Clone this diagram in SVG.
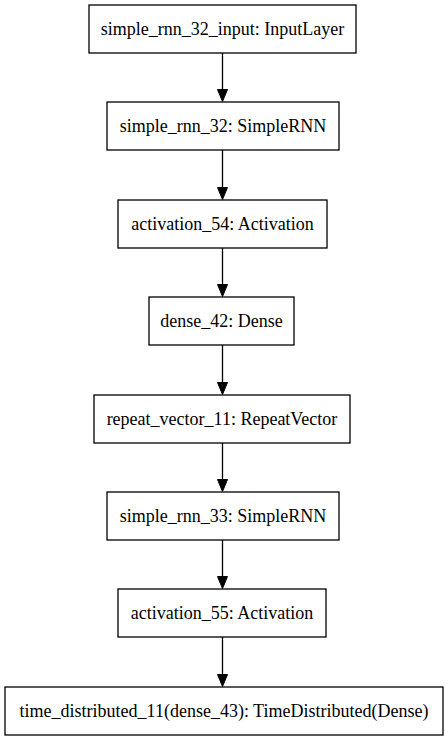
<svg xmlns="http://www.w3.org/2000/svg" width="445" height="741" viewBox="0 0 445 741">
<style>
.box{fill:#fff;stroke:#000;stroke-width:1.3}
.lbl{font-family:"Liberation Serif","Times New Roman",serif;font-size:18px;fill:#000;text-anchor:middle}
.edge{stroke:#000;stroke-width:1.3;fill:none}
.head{fill:#000;stroke:#000;stroke-width:1}
</style>
<rect width="445" height="741" fill="#fff"/>
<g id="connectors">
<line class="edge" x1="222.5" y1="53" x2="222.5" y2="90"/><polygon class="head" points="217.5,89.5 227.5,89.5 222.5,101.5"/>
<line class="edge" x1="222.5" y1="150" x2="222.5" y2="188"/><polygon class="head" points="217.5,187.5 227.5,187.5 222.5,199.5"/>
<line class="edge" x1="222.5" y1="248" x2="222.5" y2="285"/><polygon class="head" points="217.5,284.5 227.5,284.5 222.5,296.5"/>
<line class="edge" x1="222.5" y1="345" x2="222.5" y2="383"/><polygon class="head" points="217.5,382.5 227.5,382.5 222.5,394.5"/>
<line class="edge" x1="222.5" y1="443" x2="222.5" y2="480"/><polygon class="head" points="217.5,479.5 227.5,479.5 222.5,491.5"/>
<line class="edge" x1="222.5" y1="540" x2="222.5" y2="577"/><polygon class="head" points="217.5,576.5 227.5,576.5 222.5,588.5"/>
<line class="edge" x1="222.5" y1="637" x2="222.5" y2="675"/><polygon class="head" points="217.5,674.5 227.5,674.5 222.5,686.5"/>
</g>
<g id="n1"><rect class="box" x="89" y="5" width="267" height="48"/><text class="lbl" x="222.5" y="35">simple_rnn_32_input: InputLayer</text></g>
<g id="n2"><rect class="box" x="107" y="102" width="232" height="48"/><text class="lbl" x="223" y="132">simple_rnn_32: SimpleRNN</text></g>
<g id="n3"><rect class="box" x="118" y="200" width="209" height="48"/><text class="lbl" x="222.5" y="230">activation_54: Activation</text></g>
<g id="n4"><rect class="box" x="149" y="297" width="145" height="48"/><text class="lbl" x="221.5" y="327">dense_42: Dense</text></g>
<g id="n5"><rect class="box" x="94" y="395" width="256" height="48"/><text class="lbl" x="222" y="425">repeat_vector_11: RepeatVector</text></g>
<g id="n6"><rect class="box" x="107" y="492" width="232" height="48"/><text class="lbl" x="223" y="522">simple_rnn_33: SimpleRNN</text></g>
<g id="n7"><rect class="box" x="118" y="589" width="208" height="48"/><text class="lbl" x="222" y="619">activation_55: Activation</text></g>
<g id="n8"><rect class="box" x="5" y="687" width="438" height="48"/><text class="lbl" x="224" y="717">time_distributed_11(dense_43): TimeDistributed(Dense)</text></g>
</svg>
